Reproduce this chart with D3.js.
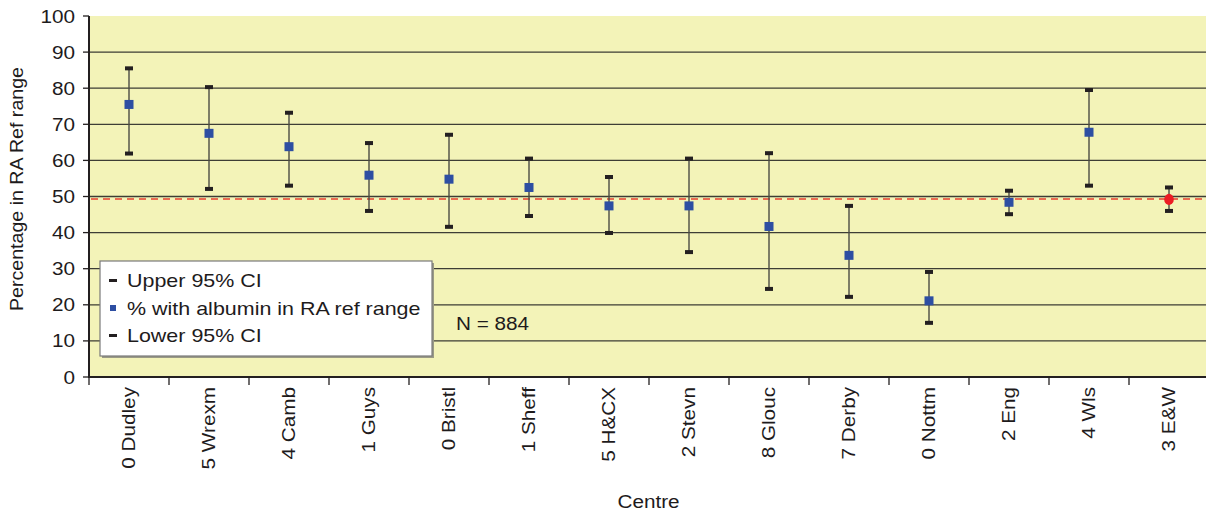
<!DOCTYPE html>
<html>
<head>
<meta charset="utf-8">
<script src="https://cdn.jsdelivr.net/npm/d3@7"></script>
<style>
  html, body { margin: 0; padding: 0; background: #fff; }
  svg text { font-family: "Liberation Sans", Arial, Helvetica, sans-serif; fill: #1e1b1c; }
</style>
</head>
<body>
<svg id="chart" width="1206" height="515"></svg>
<script>
// Dades del gràfic
var centres = ["0 Dudley", "5 Wrexm", "4 Camb", "1 Guys", "0 Bristl", "1 Sheff", "5 H&CX",
               "2 Stevn", "8 Glouc", "7 Derby", "0 Nottm", "2 Eng", "4 Wls", "3 E&W"];
var pct   = [75.5, 67.5, 63.8, 55.9, 54.8, 52.5, 47.4, 47.4, 41.7, 33.7, 21.1, 48.4, 67.8, 49.2];
var upper = [85.5, 80.3, 73.2, 64.8, 67.1, 60.5, 55.4, 60.5, 62.0, 47.4, 29.1, 51.6, 79.5, 52.5];
var lower = [61.9, 52.1, 53.0, 46.0, 41.6, 44.6, 39.9, 34.6, 24.4, 22.2, 15.0, 45.1, 53.0, 46.0];
var refLine = 49.3;
var yTicks = [0, 10, 20, 30, 40, 50, 60, 70, 80, 90, 100];
var legendItems = ["Upper 95% CI", "% with albumin in RA ref range", "Lower 95% CI"];
var noteText = "N = 884";
var xTitle = "Centre";
var yTitle = "Percentage in RA Ref range";

var data = centres.map(function (c, i) {
    return { centre: c, pct: pct[i], upper: upper[i], lower: lower[i] };
});

var svg = d3.select("#chart");
var pLeft = 89, pRight = 1209, pTop = 16, pBottom = 377;
var fs = 18.5, sx = 1.12;

var x = d3.scaleBand().domain(centres).range([pLeft, pRight]).paddingInner(0).paddingOuter(0);
var y = d3.scaleLinear().domain([0, 100]).range([pBottom, pTop]);

// Fons de l'àrea de dibuix
svg.append("rect").attr("x", pLeft).attr("y", pTop)
    .attr("width", pRight - pLeft).attr("height", pBottom - pTop)
    .attr("fill", "#f3f3b8");

// Línies de graella
svg.selectAll("line.grid").data(yTicks.filter(function (d) { return d > 0 && d < 100; }))
    .enter().append("line").attr("class", "grid")
    .attr("x1", pLeft).attr("x2", pRight)
    .attr("y1", function (d) { return y(d); }).attr("y2", function (d) { return y(d); })
    .attr("stroke", "#3d3d35").attr("stroke-width", 1.3);

// Línia de referència
svg.append("line")
    .attr("x1", pLeft + 2).attr("x2", pRight)
    .attr("y1", y(refLine)).attr("y2", y(refLine))
    .attr("stroke", "#e8402f").attr("stroke-width", 1.6)
    .attr("stroke-dasharray", "7,5");

// Llegenda
var lg = svg.append("g");
lg.append("rect").attr("x", 102).attr("y", 263).attr("width", 332).attr("height", 95).attr("fill", "#9a9a86");
lg.append("rect").attr("x", 100).attr("y", 261).attr("width", 332).attr("height", 95)
    .attr("fill", "#fff").attr("stroke", "#7a7a7a").attr("stroke-width", 1.2);
legendItems.forEach(function (t, i) {
    var cy = 280.5 + i * 27.5;
    if (i === 1) {
        lg.append("rect").attr("x", 110).attr("y", cy - 3).attr("width", 6).attr("height", 6).attr("fill", "#2d4ea2");
    } else {
        lg.append("rect").attr("x", 109).attr("y", cy - 1.5).attr("width", 8).attr("height", 3).attr("fill", "#231f20");
    }
    lg.append("text").attr("transform", "translate(127," + (cy + 6.8) + ") scale(1.13,1)")
        .attr("font-size", 19).text(t);
});

// Nota
svg.append("text").attr("transform", "translate(456," + 330 + ") scale(" + sx + ",1)")
    .attr("font-size", fs).text(noteText);

// Barres d'error
var g = svg.append("g");
var pts = g.selectAll("g.pt").data(data).enter().append("g").attr("class", "pt")
    .attr("transform", function (d) { return "translate(" + (x(d.centre) + x.bandwidth() / 2) + ",0)"; });
pts.append("line").attr("x1", 0).attr("x2", 0)
    .attr("y1", function (d) { return y(d.upper); }).attr("y2", function (d) { return y(d.lower); })
    .attr("stroke", "#4a4a44").attr("stroke-width", 1.4);
pts.append("rect").attr("x", -4).attr("width", 8).attr("height", 4)
    .attr("y", function (d) { return y(d.upper) - 2; }).attr("fill", "#231f20");
pts.append("rect").attr("x", -4).attr("width", 8).attr("height", 4)
    .attr("y", function (d) { return y(d.lower) - 2; }).attr("fill", "#231f20");
pts.each(function (d, i) {
    var s = d3.select(this);
    if (i === data.length - 1) {
        s.append("ellipse").attr("cx", 0).attr("cy", y(d.pct)).attr("rx", 4.8).attr("ry", 5.6).attr("fill", "#ec1c24");
    } else {
        s.append("rect").attr("x", -4.5).attr("y", y(d.pct) - 4.5).attr("width", 9).attr("height", 9).attr("fill", "#2d4ea2");
    }
});

// Eixos
svg.append("line").attr("x1", pLeft).attr("x2", pLeft).attr("y1", pTop).attr("y2", pBottom + 1)
    .attr("stroke", "#231f20").attr("stroke-width", 2);
svg.append("line").attr("x1", pLeft - 1).attr("x2", pRight).attr("y1", pBottom).attr("y2", pBottom)
    .attr("stroke", "#231f20").attr("stroke-width", 2);

svg.selectAll("line.ytick").data(yTicks).enter().append("line").attr("class", "ytick")
    .attr("x1", pLeft - 6).attr("x2", pLeft)
    .attr("y1", function (d) { return y(d); }).attr("y2", function (d) { return y(d); })
    .attr("stroke", "#231f20").attr("stroke-width", 1.3);
svg.selectAll("text.ylab").data(yTicks).enter().append("text").attr("class", "ylab")
    .attr("transform", function (d) { return "translate(" + (pLeft - 14) + "," + (y(d) + 6.5) + ") scale(" + sx + ",1)"; })
    .attr("text-anchor", "end").attr("font-size", fs).text(function (d) { return d; });

var bounds = centres.map(function (c) { return x(c); });
svg.selectAll("line.xtick").data(bounds).enter().append("line").attr("class", "xtick")
    .attr("x1", function (d) { return d; }).attr("x2", function (d) { return d; })
    .attr("y1", pBottom).attr("y2", pBottom + 8)
    .attr("stroke", "#231f20").attr("stroke-width", 1.3);
svg.selectAll("text.xlab").data(centres).enter().append("text").attr("class", "xlab")
    .attr("transform", function (d) {
        return "translate(" + (x(d) + x.bandwidth() / 2 + 6) + "," + (pBottom + 10) + ") rotate(-90) scale(" + sx + ",1)";
    })
    .attr("text-anchor", "end").attr("font-size", fs).text(function (d) { return d; });

// Títols dels eixos
svg.append("text").attr("transform", "translate(648.5,508) scale(" + sx + ",1)")
    .attr("text-anchor", "middle").attr("font-size", fs).text(xTitle);
svg.append("text").attr("transform", "translate(22.5,189) rotate(-90) scale(1.06,1)")
    .attr("text-anchor", "middle").attr("font-size", fs).text(yTitle);
</script>
</body>
</html>
